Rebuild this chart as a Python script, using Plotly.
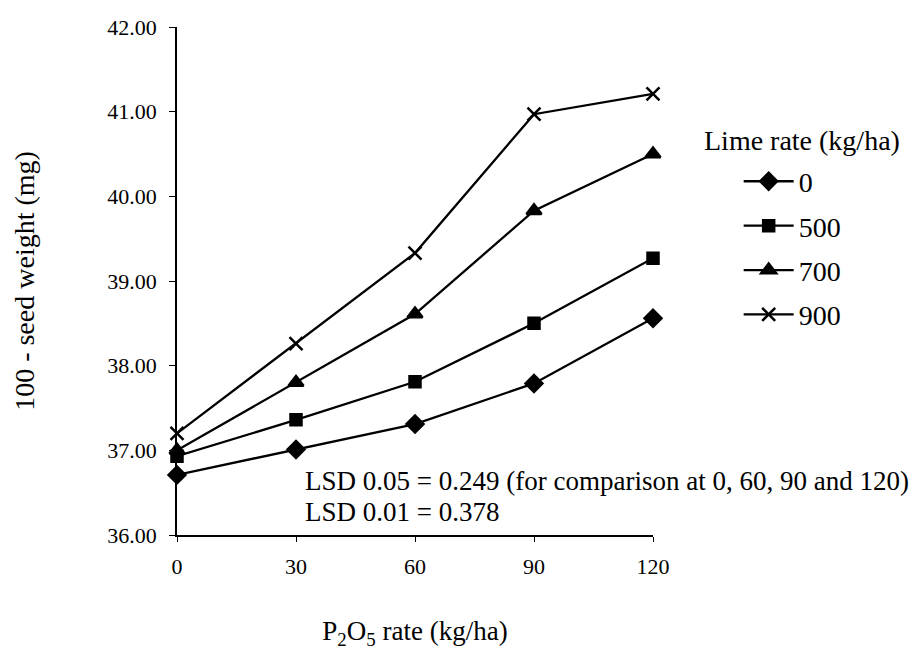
import plotly.graph_objects as go

p_rates = [0, 30, 60, 90, 120]
lime_labels = ["0", "500", "700", "900"]
w_0 = [36.71, 37.01, 37.31, 37.79, 38.56]
w_500 = [36.93, 37.36, 37.81, 38.50, 39.27]
w_700 = [37.00, 37.80, 38.61, 39.83, 40.50]
w_900 = [37.20, 38.26, 39.33, 40.97, 41.21]
y_ticks = [36, 37, 38, 39, 40, 41, 42]

series = [w_0, w_500, w_700, w_900]
symbols = ["diamond", "square", "triangle-up", "x-thin-open"]
sizes = [13, 11, 13, 13]

FONT = "Liberation Serif"

fig = go.Figure()
for lab, vals, sym, sz in zip(lime_labels, series, symbols, sizes):
    fig.add_trace(go.Scatter(
        x=p_rates, y=vals, name=lab, mode="lines+markers",
        line=dict(color="black", width=2.3),
        marker=dict(symbol=sym, size=sz, color="black",
                    line=dict(color="black", width=2.5)),
        cliponaxis=False, legendgroup=lab,
    ))

fig.update_layout(
    width=923, height=650,
    margin=dict(l=177, r=270, t=27, b=115),
    paper_bgcolor="white", plot_bgcolor="white",
    font=dict(family=FONT, color="black", size=22),
    showlegend=True,
    legend=dict(x=1.18, y=0.745, xanchor="left", yanchor="top",
                font=dict(family=FONT, size=28, color="black"),
                tracegroupgap=5, itemwidth=50, bgcolor="rgba(0,0,0,0)"),
    xaxis=dict(range=[0, 120], tickvals=p_rates, showline=True, linecolor="black",
               linewidth=1.5, ticks="outside", ticklen=5, tickcolor="black",
               showgrid=False, zeroline=False, ticklabelstandoff=6,
               automargin=False, tickfont=dict(family=FONT, size=22),
               title=dict(text="P<sub>2</sub>O<sub>5</sub> rate (kg/ha)",
                          font=dict(family=FONT, size=27), standoff=52)),
    yaxis=dict(range=[36, 42], tickvals=y_ticks, tickformat=".2f", showline=True,
               linecolor="black", linewidth=1.5, ticks="outside", ticklen=6,
               tickcolor="black", showgrid=False, zeroline=False,
               ticklabelstandoff=8, automargin=False,
               tickfont=dict(family=FONT, size=22),
               title=dict(text="100 - seed weight (mg)",
                          font=dict(family=FONT, size=28), standoff=65)),
    annotations=[
        dict(text="Lime rate (kg/ha)", xref="paper", yref="paper",
             x=(702 - 177) / 476, y=(535 - 140) / 508, xanchor="left",
             yanchor="middle", showarrow=False, font=dict(family=FONT, size=28)),
        dict(text="LSD 0.05 = 0.249 (for comparison at 0, 60, 90 and 120)",
             xref="paper", yref="paper", x=(303 - 177) / 476,
             y=(535 - 481) / 508, xanchor="left", yanchor="middle",
             showarrow=False, font=dict(family=FONT, size=27)),
        dict(text="LSD 0.01 = 0.378", xref="paper", yref="paper",
             x=(303 - 177) / 476, y=(535 - 512) / 508, xanchor="left",
             yanchor="middle", showarrow=False, font=dict(family=FONT, size=27)),
    ],
)

fig.write_html("out.html")
